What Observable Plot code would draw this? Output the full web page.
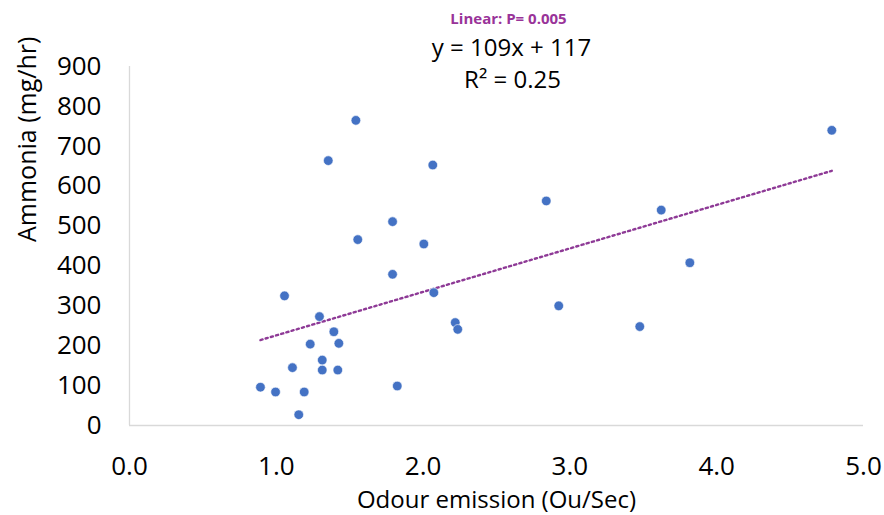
<!DOCTYPE html>
<html>
<head>
<meta charset="utf-8">
<script src="https://cdn.jsdelivr.net/npm/d3@7"></script>
<script src="https://cdn.jsdelivr.net/npm/@observablehq/plot@0.6"></script>
<style>
  html, body { margin: 0; padding: 0; background: #fff; }
  #chart svg { display: block; }
</style>
</head>
<body>
<div id="chart"></div>
<script>
// Odour emission (Ou/Sec)
const odour = [1.542, 1.354, 2.066, 1.792, 1.555, 2.005, 1.792, 1.056, 2.073, 1.294,
               1.392, 1.231, 1.426, 1.313, 1.110, 1.313, 1.419, 0.892, 1.824, 0.995,
               1.190, 1.153, 2.219, 2.236, 2.839, 3.622, 3.817, 2.924, 3.476, 4.784];
// Ammonia (mg/hr)
const ammonia = [765, 664, 653, 511, 466, 455, 379, 325, 333, 273,
                 235, 204, 206, 164, 145, 139, 139, 96, 99, 84,
                 84, 27, 258, 241, 563, 540, 408, 300, 248, 740];
const xTicks = [0, 1, 2, 3, 4, 5];
const yTicks = [0, 100, 200, 300, 400, 500, 600, 700, 800, 900];
const slope = 109, intercept = 117;
const trendX = [d3.min(odour), d3.max(odour)];
const pLabel = "Linear: P= 0.005";
const eqLabel = "y = 109x + 117";
const r2Label = "R² = 0.25";
const xTitle = "Odour emission (Ou/Sec)";
const yTitle = "Ammonia (mg/hr)";

const points = odour.map((x, i) => ({x, y: ammonia[i]}));
const trend = trendX.map(x => ({x, y: slope * x + intercept}));

const FONT = "'Open Sans', sans-serif";

const chart = Plot.plot({
  width: 884,
  height: 515,
  marginLeft: 129,
  marginRight: 21,
  marginTop: 66,
  marginBottom: 90,
  style: {fontFamily: FONT, fontSize: "26px", color: "#000", background: "#fff"},
  x: {domain: [0, 5]},
  y: {domain: [0, 900]},
  marks: [
    Plot.axisX({ticks: xTicks, tickSize: 0, tickPadding: 31, tickFormat: d => d.toFixed(1), label: null, fontSize: 26, fill: "#000"}),
    Plot.axisY({ticks: yTicks, tickSize: 0, tickPadding: 28, label: null, fontSize: 26, fill: "#000"}),
    Plot.ruleY([0], {stroke: "#d9d9d9", strokeWidth: 1.3}),
    Plot.ruleX([0], {stroke: "#d9d9d9", strokeWidth: 1.3}),
    Plot.line(trend, {x: "x", y: "y", stroke: "#8E3A96", strokeWidth: 2.4, strokeDasharray: "2.2,3.2"}),
    Plot.dot(points, {x: "x", y: "y", r: 4.8, fill: "#4472C4", stroke: "#fff", strokeWidth: 0.6}),
    Plot.text([pLabel], {frameAnchor: "top", dx: 12, dy: -47, lineAnchor: "middle", fontSize: 15, fontWeight: "bold", fill: "#993399", fontFamily: FONT}),
    Plot.text([eqLabel], {frameAnchor: "top", dx: 15, dy: -18.5, lineAnchor: "middle", fontSize: 24, fill: "#000", fontFamily: FONT}),
    Plot.text([r2Label], {frameAnchor: "top", dx: 16, dy: 13.5, lineAnchor: "middle", fontSize: 24, fill: "#000", fontFamily: FONT}),
    Plot.text([xTitle], {frameAnchor: "bottom", dy: 75, lineAnchor: "middle", fontSize: 24, fill: "#000", fontFamily: FONT}),
    Plot.text([yTitle], {frameAnchor: "left", dx: -102, dy: -4, rotate: -90, lineAnchor: "middle", fontSize: 25, fill: "#000", fontFamily: FONT})
  ]
});
document.getElementById("chart").appendChild(chart);
</script>
</body>
</html>
